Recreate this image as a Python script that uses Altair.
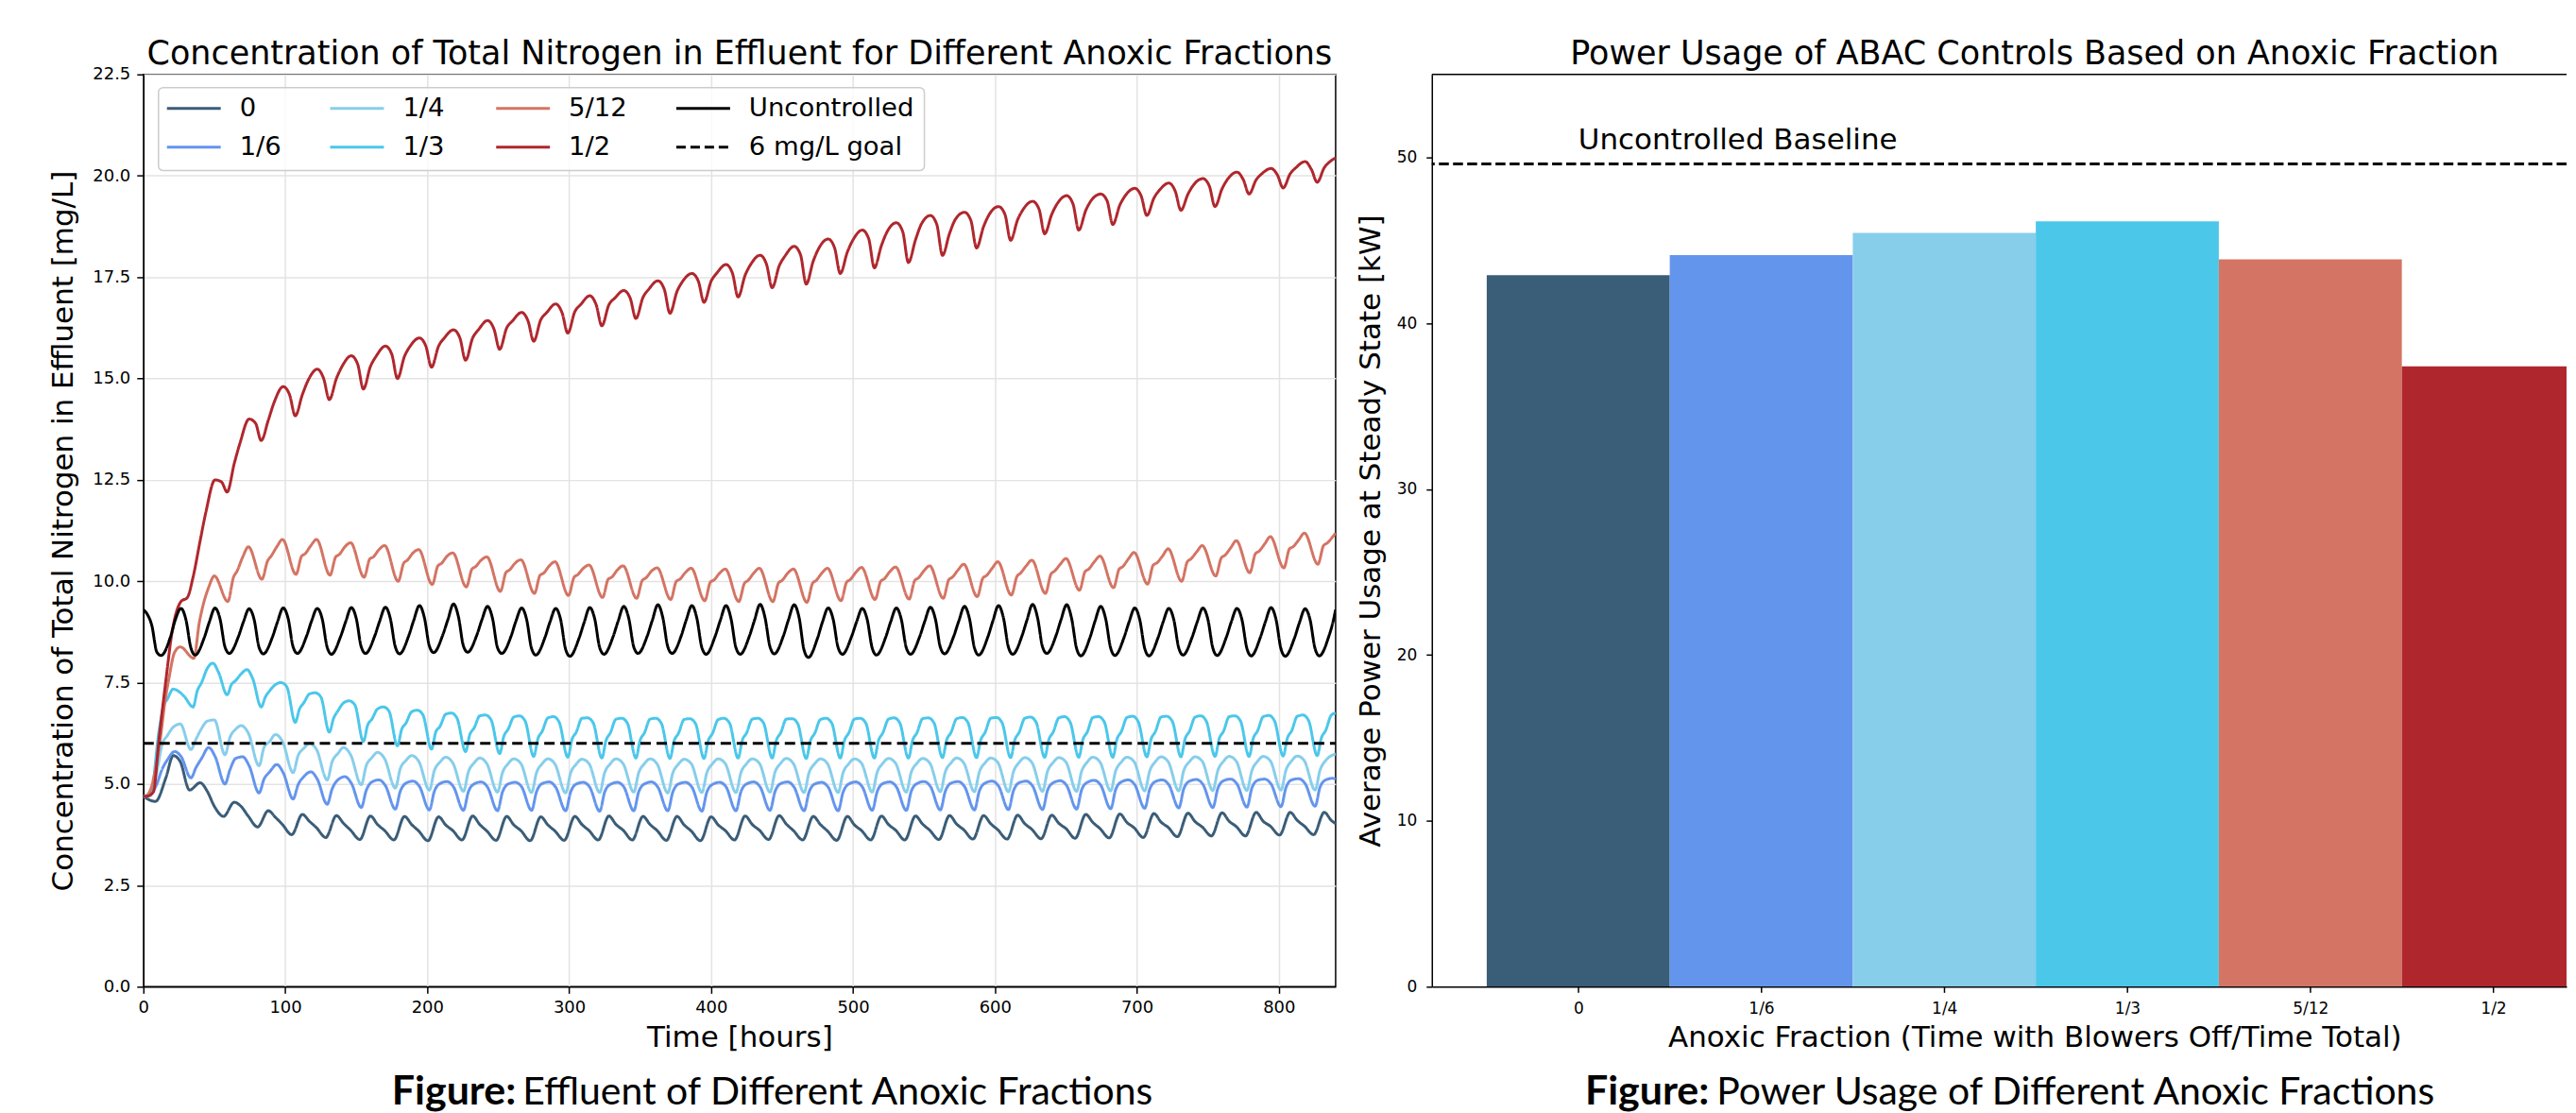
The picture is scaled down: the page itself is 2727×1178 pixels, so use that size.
import json
import altair as alt
import pandas as pd

FONT = "DejaVu Sans"
CAP_FONT = "Lato"

# ---------------- left chart: effluent total nitrogen ----------------
SERIES = ["0", "1/6", "1/4", "1/3", "5/12", "1/2", "Uncontrolled"]
SERIES_COLORS = ["#3a5d78", "#6495ed", "#87ceeb", "#4bc7ea", "#d47464", "#af272d", "#000000"]
GOAL_LABEL = "6 mg/L goal"
GOAL_VALUE = 6.0
T_MAX = 840
HOURS_PER_DAY = 24
START_VALUES = [4.70, 4.70, 4.70, 4.70, 4.70, 4.70, 9.30]
END_VALUES = [4.02, 5.12, 5.74, 6.75, 11.19, 20.44, 9.30]

# hour-of-day sample positions for each series (one row of values per day below)
OFF_0 = [2, 8.5, 16, 21]
OFF_16 = [2.5, 9.5, 13, 17, 22]
OFF_14 = [2, 9.5, 13, 17, 21]
OFF_13 = [1, 5, 11, 14, 17, 21]
OFF_512 = [2, 11.5, 15.5, 18, 22]
OFF_12 = [2.5, 7, 11, 16, 20]
OFF_UNC = [2.5, 6, 9.5, 12.5, 19, 22.5]

DAY_0 = [
    [4.65, 4.57, 5.17, 5.70], [5.55, 4.85, 5.03, 4.82], [4.45, 4.20, 4.55, 4.44],
    [4.20, 3.94, 4.34, 4.18], [4.00, 3.75, 4.25, 4.08], [3.92, 3.68, 4.22, 4.03],
    [3.86, 3.63, 4.21, 4.00], [3.85, 3.62, 4.20, 4.00], [3.84, 3.60, 4.19, 3.99],
    [3.85, 3.62, 4.21, 4.00], [3.84, 3.61, 4.20, 3.99], [3.85, 3.60, 4.19, 3.99],
    [3.84, 3.61, 4.20, 4.00], [3.85, 3.62, 4.21, 4.00], [3.86, 3.62, 4.20, 4.00],
    [3.85, 3.61, 4.20, 3.99], [3.84, 3.60, 4.19, 3.99], [3.85, 3.62, 4.21, 4.00],
    [3.86, 3.63, 4.22, 4.01], [3.85, 3.62, 4.20, 4.00], [3.84, 3.61, 4.20, 3.99],
    [3.85, 3.62, 4.21, 4.00], [3.86, 3.62, 4.21, 4.01], [3.86, 3.63, 4.22, 4.01],
    [3.87, 3.64, 4.22, 4.02], [3.87, 3.64, 4.23, 4.02], [3.88, 3.65, 4.23, 4.03],
    [3.90, 3.66, 4.25, 4.05], [3.90, 3.67, 4.26, 4.05], [3.92, 3.68, 4.27, 4.06],
    [3.93, 3.70, 4.28, 4.07], [3.94, 3.72, 4.29, 4.08], [3.95, 3.72, 4.30, 4.08],
    [3.96, 3.74, 4.30, 4.10], [3.96, 3.75, 4.30, 4.10],
]
DAY_16 = [
    [4.70, 5.00, 5.35, 5.60, 5.80], [5.68, 5.15, 5.40, 5.63, 5.90], [5.68, 5.00, 5.35, 5.63, 5.67],
    [5.45, 4.78, 5.12, 5.30, 5.48], [5.28, 4.63, 4.98, 5.18, 5.30], [5.12, 4.50, 4.88, 5.10, 5.18],
    [5.02, 4.42, 4.84, 5.05, 5.10], [4.96, 4.38, 4.82, 5.02, 5.07], [4.94, 4.36, 4.82, 5.01, 5.06],
    [4.93, 4.35, 4.81, 5.00, 5.05], [4.92, 4.34, 4.80, 5.00, 5.04], [4.93, 4.35, 4.81, 5.01, 5.05],
    [4.92, 4.34, 4.80, 5.00, 5.04], [4.92, 4.33, 4.80, 4.99, 5.04], [4.93, 4.34, 4.81, 5.00, 5.05],
    [4.92, 4.34, 4.80, 5.00, 5.04], [4.92, 4.33, 4.80, 4.99, 5.04], [4.93, 4.34, 4.81, 5.00, 5.05],
    [4.93, 4.35, 4.81, 5.01, 5.05], [4.92, 4.34, 4.80, 5.00, 5.04], [4.92, 4.34, 4.80, 5.00, 5.05],
    [4.93, 4.35, 4.81, 5.01, 5.05], [4.93, 4.35, 4.82, 5.01, 5.06], [4.94, 4.36, 4.82, 5.02, 5.06],
    [4.94, 4.36, 4.83, 5.02, 5.07], [4.95, 4.37, 4.83, 5.03, 5.07], [4.95, 4.37, 4.84, 5.03, 5.08],
    [4.96, 4.38, 4.85, 5.04, 5.09], [4.97, 4.39, 4.86, 5.05, 5.10], [4.98, 4.40, 4.87, 5.06, 5.10],
    [4.98, 4.41, 4.88, 5.07, 5.11], [4.99, 4.42, 4.89, 5.08, 5.12], [5.00, 4.43, 4.90, 5.09, 5.12],
    [5.00, 4.44, 4.91, 5.10, 5.13], [5.01, 4.45, 4.92, 5.10, 5.14],
]
DAY_14 = [
    [4.72, 5.30, 5.95, 6.20, 6.40], [6.48, 5.85, 6.10, 6.37, 6.55], [6.58, 5.72, 6.15, 6.35, 6.44],
    [6.25, 5.45, 5.90, 6.05, 6.22], [6.05, 5.28, 5.70, 5.88, 6.00], [5.85, 5.10, 5.55, 5.75, 5.90],
    [5.72, 4.98, 5.45, 5.65, 5.78], [5.62, 4.90, 5.38, 5.58, 5.70], [5.56, 4.85, 5.33, 5.54, 5.66],
    [5.52, 4.82, 5.30, 5.52, 5.64], [5.50, 4.80, 5.28, 5.50, 5.62], [5.50, 4.79, 5.28, 5.50, 5.62],
    [5.49, 4.78, 5.27, 5.49, 5.61], [5.50, 4.79, 5.28, 5.50, 5.62], [5.50, 4.80, 5.28, 5.50, 5.62],
    [5.49, 4.78, 5.27, 5.49, 5.61], [5.50, 4.79, 5.28, 5.50, 5.62], [5.50, 4.79, 5.28, 5.50, 5.62],
    [5.51, 4.80, 5.29, 5.51, 5.63], [5.50, 4.79, 5.28, 5.50, 5.62], [5.50, 4.79, 5.28, 5.50, 5.62],
    [5.51, 4.80, 5.29, 5.51, 5.63], [5.51, 4.80, 5.29, 5.51, 5.63], [5.52, 4.81, 5.30, 5.52, 5.64],
    [5.52, 4.81, 5.30, 5.52, 5.64], [5.53, 4.81, 5.30, 5.53, 5.65], [5.53, 4.82, 5.31, 5.53, 5.65],
    [5.54, 4.82, 5.31, 5.54, 5.66], [5.54, 4.83, 5.32, 5.54, 5.66], [5.55, 4.83, 5.32, 5.55, 5.67],
    [5.55, 4.83, 5.33, 5.55, 5.67], [5.56, 4.84, 5.33, 5.56, 5.68], [5.56, 4.84, 5.33, 5.56, 5.68],
    [5.57, 4.85, 5.34, 5.57, 5.69], [5.57, 4.85, 5.34, 5.58, 5.70],
]
DAY_13 = [
    [4.70, 4.72, 6.30, 6.90, 7.10, 7.34], [7.28, 7.15, 6.90, 7.30, 7.50, 7.85], [7.98, 7.75, 7.20, 7.45, 7.55, 7.72],
    [7.82, 7.60, 6.90, 7.15, 7.30, 7.45], [7.50, 7.40, 6.52, 6.85, 7.00, 7.22], [7.25, 7.15, 6.28, 6.62, 6.80, 7.00],
    [7.05, 6.95, 6.05, 6.45, 6.60, 6.85], [6.90, 6.80, 5.94, 6.35, 6.50, 6.78], [6.82, 6.70, 5.86, 6.28, 6.42, 6.72],
    [6.75, 6.62, 5.80, 6.22, 6.38, 6.68], [6.70, 6.58, 5.75, 6.18, 6.35, 6.65], [6.68, 6.55, 5.68, 6.12, 6.30, 6.63],
    [6.66, 6.52, 5.66, 6.10, 6.28, 6.62], [6.63, 6.50, 5.64, 6.08, 6.26, 6.60], [6.62, 6.50, 5.64, 6.08, 6.26, 6.60],
    [6.62, 6.49, 5.63, 6.07, 6.25, 6.59], [6.61, 6.49, 5.63, 6.07, 6.25, 6.59], [6.62, 6.50, 5.64, 6.08, 6.26, 6.60],
    [6.62, 6.50, 5.64, 6.08, 6.26, 6.60], [6.61, 6.49, 5.63, 6.07, 6.25, 6.59], [6.62, 6.50, 5.64, 6.08, 6.26, 6.60],
    [6.62, 6.50, 5.64, 6.08, 6.26, 6.60], [6.63, 6.50, 5.64, 6.08, 6.26, 6.61], [6.63, 6.51, 5.65, 6.09, 6.27, 6.61],
    [6.64, 6.51, 5.65, 6.09, 6.27, 6.62], [6.64, 6.51, 5.65, 6.09, 6.27, 6.62], [6.65, 6.52, 5.66, 6.10, 6.28, 6.63],
    [6.66, 6.52, 5.66, 6.10, 6.28, 6.64], [6.66, 6.53, 5.66, 6.11, 6.29, 6.64], [6.67, 6.53, 5.67, 6.11, 6.29, 6.65],
    [6.67, 6.54, 5.67, 6.12, 6.30, 6.65], [6.68, 6.54, 5.68, 6.12, 6.30, 6.66], [6.68, 6.55, 5.68, 6.13, 6.31, 6.66],
    [6.69, 6.55, 5.69, 6.13, 6.31, 6.67], [6.70, 6.56, 5.70, 6.14, 6.32, 6.70],
]
DAY_512 = [
    [4.70, 6.00, 7.10, 7.60, 8.25], [8.38, 8.10, 9.00, 9.40, 9.85], [10.13, 9.50, 10.10, 10.25, 10.60],
    [10.85, 10.05, 10.50, 10.62, 10.85], [11.03, 10.17, 10.62, 10.68, 10.88], [11.03, 10.15, 10.60, 10.66, 10.85],
    [10.95, 10.10, 10.55, 10.60, 10.78], [10.88, 10.00, 10.45, 10.52, 10.70], [10.78, 9.92, 10.38, 10.44, 10.62],
    [10.70, 9.86, 10.30, 10.36, 10.52], [10.60, 9.75, 10.22, 10.28, 10.45], [10.53, 9.70, 10.15, 10.20, 10.38],
    [10.48, 9.65, 10.10, 10.16, 10.32], [10.40, 9.60, 10.05, 10.10, 10.28], [10.38, 9.58, 10.02, 10.08, 10.25],
    [10.33, 9.55, 10.00, 10.05, 10.22], [10.32, 9.52, 9.98, 10.03, 10.20], [10.30, 9.50, 9.95, 10.02, 10.20],
    [10.32, 9.50, 9.96, 10.02, 10.20], [10.30, 9.48, 9.95, 10.02, 10.20], [10.32, 9.52, 9.98, 10.04, 10.22],
    [10.34, 9.55, 10.00, 10.06, 10.24], [10.35, 9.56, 10.02, 10.08, 10.26], [10.38, 9.58, 10.04, 10.10, 10.28],
    [10.42, 9.62, 10.08, 10.14, 10.32], [10.48, 9.66, 10.12, 10.20, 10.38], [10.52, 9.70, 10.18, 10.25, 10.42],
    [10.56, 9.78, 10.24, 10.30, 10.48], [10.62, 9.84, 10.30, 10.36, 10.55], [10.71, 9.93, 10.40, 10.45, 10.62],
    [10.80, 10.00, 10.48, 10.55, 10.72], [10.88, 10.13, 10.58, 10.64, 10.82], [11.00, 10.21, 10.68, 10.74, 10.92],
    [11.10, 10.33, 10.80, 10.85, 11.02], [11.19, 10.42, 10.88, 10.94, 11.10],
]
DAY_12 = [
    [4.70, 4.80, 6.10, 7.60, 8.70], [9.50, 9.60, 10.10, 11.00, 11.70], [12.50, 12.45, 12.20, 12.90, 13.40],
    [14.00, 13.90, 13.47, 13.97, 14.40], [14.80, 14.60, 14.08, 14.60, 14.95], [15.23, 15.00, 14.48, 15.00, 15.30],
    [15.56, 15.35, 14.74, 15.30, 15.55], [15.80, 15.60, 15.00, 15.55, 15.80], [16.00, 15.80, 15.28, 15.80, 16.00],
    [16.20, 16.00, 15.45, 16.00, 16.20], [16.43, 16.22, 15.72, 16.25, 16.42], [16.63, 16.42, 15.92, 16.45, 16.62],
    [16.84, 16.62, 16.12, 16.65, 16.82], [17.04, 16.82, 16.30, 16.82, 16.98], [17.17, 16.98, 16.48, 17.00, 17.20],
    [17.41, 17.20, 16.61, 17.15, 17.40], [17.59, 17.40, 16.88, 17.40, 17.60], [17.81, 17.60, 17.01, 17.55, 17.82],
    [18.04, 17.82, 17.24, 17.78, 18.02], [18.26, 18.05, 17.33, 17.90, 18.22], [18.44, 18.22, 17.59, 18.12, 18.42],
    [18.66, 18.45, 17.73, 18.28, 18.62], [18.84, 18.62, 17.86, 18.42, 18.80], [19.02, 18.80, 18.04, 18.58, 18.92],
    [19.10, 18.90, 18.22, 18.75, 19.05], [19.24, 19.05, 18.41, 18.92, 19.18], [19.37, 19.18, 18.57, 19.05, 19.32],
    [19.51, 19.30, 18.66, 19.15, 19.40], [19.55, 19.38, 18.80, 19.28, 19.52], [19.69, 19.50, 19.02, 19.45, 19.65],
    [19.82, 19.62, 19.15, 19.55, 19.78], [19.93, 19.75, 19.24, 19.68, 19.92], [20.09, 19.90, 19.55, 19.90, 20.05],
    [20.18, 20.02, 19.70, 20.05, 20.20], [20.35, 20.15, 19.84, 20.20, 20.35],
]
DAY_UNC = [
    [9.20, 8.90, 8.25, 8.17, 8.62, 9.05], [9.33, 9.05, 8.35, 8.18, 8.62, 9.00], [9.34, 9.07, 8.38, 8.22, 8.64, 9.00],
    [9.32, 9.06, 8.37, 8.21, 8.63, 9.00], [9.34, 9.08, 8.38, 8.22, 8.65, 9.02], [9.33, 9.07, 8.37, 8.20, 8.64, 9.00],
    [9.35, 9.08, 8.38, 8.22, 8.65, 9.02], [9.36, 9.08, 8.38, 8.21, 8.66, 9.04], [9.40, 9.10, 8.40, 8.24, 8.68, 9.05],
    [9.44, 9.12, 8.40, 8.25, 8.68, 9.05], [9.38, 9.08, 8.36, 8.22, 8.64, 9.02], [9.34, 9.06, 8.34, 8.18, 8.62, 9.00],
    [9.33, 9.05, 8.32, 8.15, 8.60, 8.98], [9.35, 9.07, 8.36, 8.20, 8.64, 9.02], [9.38, 9.08, 8.38, 8.22, 8.65, 9.03],
    [9.42, 9.10, 8.38, 8.22, 8.66, 9.05], [9.40, 9.08, 8.36, 8.20, 8.66, 9.04], [9.40, 9.08, 8.36, 8.20, 8.65, 9.03],
    [9.43, 9.10, 8.38, 8.21, 8.66, 9.05], [9.42, 9.10, 8.30, 8.12, 8.60, 9.00], [9.34, 9.06, 8.36, 8.20, 8.64, 9.00],
    [9.33, 9.05, 8.35, 8.18, 8.62, 9.00], [9.34, 9.06, 8.36, 8.20, 8.64, 9.01], [9.36, 9.07, 8.37, 8.21, 8.65, 9.02],
    [9.38, 9.08, 8.36, 8.18, 8.63, 9.02], [9.40, 9.09, 8.37, 8.20, 8.65, 9.04], [9.43, 9.10, 8.38, 8.22, 8.66, 9.05],
    [9.42, 9.08, 8.34, 8.16, 8.62, 9.02], [9.38, 9.07, 8.35, 8.17, 8.62, 9.00], [9.34, 9.05, 8.34, 8.16, 8.62, 9.00],
    [9.33, 9.05, 8.35, 8.18, 8.63, 9.00], [9.34, 9.06, 8.35, 8.17, 8.62, 9.00], [9.33, 9.05, 8.34, 8.16, 8.62, 9.00],
    [9.35, 9.06, 8.33, 8.15, 8.60, 8.98], [9.32, 9.05, 8.34, 8.16, 8.62, 9.05],
]
OFFSETS = [OFF_0, OFF_16, OFF_14, OFF_13, OFF_512, OFF_12, OFF_UNC]
DAYS = [DAY_0, DAY_16, DAY_14, DAY_13, DAY_512, DAY_12, DAY_UNC]

Y_TICKS = [0, 2.5, 5, 7.5, 10, 12.5, 15, 17.5, 20, 22.5]
X_TICKS = [0, 100, 200, 300, 400, 500, 600, 700, 800]

TITLE_LEFT = "Concentration of Total Nitrogen in Effluent for Different Anoxic Fractions"
TITLE_RIGHT = "Power Usage of ABAC Controls Based on Anoxic Fraction"

# legend layout (pixels inside the left plot): 4 columns x 2 rows, filled column by column
LEG_BOX = [16, 14, 828, 102]
LEG_COL_X = [25, 198, 374, 565]
LEG_ROW_Y = [36, 77]
LEG_SYMBOL_LEN = 57
LEG_LABEL_GAP = 20

# ---------------- right chart: power usage ----------------
FRACTIONS = ["0", "1/6", "1/4", "1/3", "5/12", "1/2"]
POWER_KW = [42.9, 44.1, 45.45, 46.15, 43.85, 37.4]
BAR_COLORS = ["#3a5d78", "#6495ed", "#87ceeb", "#4bc7ea", "#d47464", "#af272d"]
BASELINE_KW = 49.6
BASELINE_LABEL = "Uncontrolled Baseline"
P_TICKS = [0, 10, 20, 30, 40, 50]

CAPTION_LEFT = ["Figure:", "Effluent of Different Anoxic Fractions"]
CAPTION_RIGHT = ["Figure:", "Power Usage of Different Anoxic Fractions"]

LW, LH = 1264, 967
RW, RH = 1203, 967

# ---------------- build left ----------------
rows = []
for name, start, offs, days, end in zip(SERIES, START_VALUES, OFFSETS, DAYS, END_VALUES):
    rows.append({"series": name, "t": 0.0, "v": start})
    for k, vals in enumerate(days):
        for off, val in zip(offs, vals):
            rows.append({"series": name, "t": HOURS_PER_DAY * k + off, "v": val})
    rows.append({"series": name, "t": float(T_MAX), "v": end})
rows.append({"series": GOAL_LABEL, "t": 0.0, "v": GOAL_VALUE})
rows.append({"series": GOAL_LABEL, "t": float(T_MAX), "v": GOAL_VALUE})
df = pd.DataFrame(rows)

ALL_LABELS = SERIES + [GOAL_LABEL]
color_of = dict(zip(SERIES, SERIES_COLORS))
color_of[GOAL_LABEL] = "#000000"
dash_of = {s: [1, 0] for s in SERIES}
dash_of[GOAL_LABEL] = [11, 6]

lines = alt.Chart(df).mark_line(strokeWidth=3, clip=True, interpolate="monotone").encode(
    x=alt.X("t:Q", scale=alt.Scale(domain=[0, T_MAX], nice=False, zero=False),
            axis=alt.Axis(values=X_TICKS, title="Time [hours]", titleFontSize=31, titlePadding=8,
                          labelFontSize=18, labelPadding=6, tickSize=7, grid=True,
                          gridColor="#e3e3e3", gridWidth=1.5, labelFlush=False, labelOverlap=False)),
    y=alt.Y("v:Q", scale=alt.Scale(domain=[0, 22.5], nice=False),
            axis=alt.Axis(values=Y_TICKS, format=".1f",
                          title="Concentration of Total Nitrogen in Effluent [mg/L]",
                          titleFontSize=31, titlePadding=14, labelFontSize=18, labelPadding=7,
                          tickSize=7, grid=True, gridColor="#e3e3e3", gridWidth=1.5,
                          labelFlush=False, labelOverlap=False)),
    color=alt.Color("series:N", scale=alt.Scale(domain=ALL_LABELS,
                                                 range=[color_of[s] for s in ALL_LABELS]),
                    legend=None),
    strokeDash=alt.StrokeDash("series:N", scale=alt.Scale(domain=ALL_LABELS,
                                                           range=[dash_of[s] for s in ALL_LABELS]),
                              legend=None),
)

one = pd.DataFrame({"k": [0]})
legend_layers = [
    alt.Chart(one).mark_rect(fill="white", fillOpacity=0.8, stroke="#cccccc", strokeWidth=1.5,
                             cornerRadius=5).encode(
        x=alt.value(LEG_BOX[0]), y=alt.value(LEG_BOX[1]),
        x2=alt.value(LEG_BOX[2]), y2=alt.value(LEG_BOX[3]))
]
for i, lab in enumerate(ALL_LABELS):
    cx = LEG_COL_X[i // 2]
    cy = LEG_ROW_Y[i % 2]
    rule_kw = {"color": color_of[lab], "strokeWidth": 3}
    if lab == GOAL_LABEL:
        rule_kw["strokeDash"] = [10, 5]
    legend_layers.append(
        alt.Chart(one).mark_rule(**rule_kw).encode(
            x=alt.value(cx), x2=alt.value(cx + LEG_SYMBOL_LEN), y=alt.value(cy))
    )
    legend_layers.append(
        alt.Chart(one).mark_text(text=lab, font=FONT, fontSize=27.5, align="left",
                                 baseline="middle", color="black").encode(
            x=alt.value(cx + LEG_SYMBOL_LEN + LEG_LABEL_GAP), y=alt.value(cy))
    )

txtL = pd.DataFrame({"title": [TITLE_LEFT], "bold": [CAPTION_LEFT[0]], "rest": [CAPTION_LEFT[1]]})
titleL = alt.Chart(txtL).mark_text(font=FONT, fontSize=35, align="center", baseline="alphabetic",
                                    color="black").encode(
    x=alt.value(LW / 2), y=alt.value(-10.5), text="title:N")
capL_bold = alt.Chart(txtL).mark_text(font=CAP_FONT, fontWeight="bold", fontSize=43, align="right",
                                       baseline="alphabetic", color="black").encode(
    x=alt.value(395), y=alt.value(1092), text="bold:N")
capL_rest = alt.Chart(txtL).mark_text(font=CAP_FONT, fontSize=41, align="left",
                                       baseline="alphabetic", color="black").encode(
    x=alt.value(402), y=alt.value(1092), text="rest:N")

left = alt.layer(lines, *legend_layers, titleL, capL_bold, capL_rest).properties(width=LW, height=LH)

# ---------------- build right ----------------
bars_df = pd.DataFrame({"idx": list(range(len(FRACTIONS))), "frac": FRACTIONS, "kw": POWER_KW})
XS = alt.Scale(domain=[-0.8, 5.4], nice=False, zero=False)
YS = alt.Scale(domain=[0, 55], nice=False)
label_expr = json.dumps(FRACTIONS) + "[datum.value]"

bars = alt.Chart(bars_df).transform_calculate(
    x0="datum.idx - 0.5", x1="datum.idx + 0.5", kw0="0"
).mark_bar(clip=True).encode(
    x=alt.X("x0:Q", scale=XS,
            axis=alt.Axis(values=list(range(len(FRACTIONS))), labelExpr=label_expr,
                          title="Anoxic Fraction (Time with Blowers Off/Time Total)",
                          titleFontSize=31, titlePadding=8, titleX=639, labelFontSize=17,
                          labelPadding=9, tickSize=6, grid=False, labelFlush=False)),
    x2="x1:Q",
    y=alt.Y("kw:Q", scale=YS,
            axis=alt.Axis(values=P_TICKS, title="Average Power Usage at Steady State [kW]",
                          titleFontSize=31, titlePadding=11, labelFontSize=17, labelPadding=10,
                          tickSize=6, grid=False)),
    y2="kw0:Q",
    color=alt.Color("frac:N", scale=alt.Scale(domain=FRACTIONS, range=BAR_COLORS), legend=None),
)

base_df = pd.DataFrame({"x0": [0.0], "kw": [BASELINE_KW], "label": [BASELINE_LABEL]})
base_rule = alt.Chart(base_df).mark_rule(color="black", strokeWidth=3, strokeDash=[10.5, 4.5]).encode(
    y=alt.Y("kw:Q", scale=YS))
base_text = alt.Chart(base_df).mark_text(font=FONT, fontSize=31, align="left", baseline="alphabetic",
                                         dy=-16, color="black").encode(
    x=alt.X("x0:Q", scale=XS), y=alt.Y("kw:Q", scale=YS), text="label:N")
top_rule = alt.Chart(base_df).mark_rule(color="black", strokeWidth=1.5).encode(
    x=alt.value(0), x2=alt.value(RW), y=alt.value(0))

txtR = pd.DataFrame({"title": [TITLE_RIGHT], "bold": [CAPTION_RIGHT[0]], "rest": [CAPTION_RIGHT[1]]})
titleR = alt.Chart(txtR).mark_text(font=FONT, fontSize=35, align="center", baseline="alphabetic",
                                    color="black").encode(
    x=alt.value(639), y=alt.value(-10.5), text="title:N")
capR_bold = alt.Chart(txtR).mark_text(font=CAP_FONT, fontWeight="bold", fontSize=43, align="right",
                                       baseline="alphabetic", color="black").encode(
    x=alt.value(294), y=alt.value(1092), text="bold:N")
capR_rest = alt.Chart(txtR).mark_text(font=CAP_FONT, fontSize=41, align="left",
                                       baseline="alphabetic", color="black").encode(
    x=alt.value(302), y=alt.value(1092), text="rest:N")

right = alt.layer(bars, base_rule, base_text, top_rule, titleR, capR_bold, capR_rest).properties(
    width=RW, height=RH, view=alt.ViewBackground(strokeOpacity=0),
)

chart = alt.hconcat(left, right, spacing=20).resolve_scale(
    color="independent", strokeDash="independent"
).properties(
    padding={"left": 43, "top": 30, "right": 0, "bottom": 0}, background="white"
).configure_view(
    stroke="black", strokeWidth=1.5
).configure_axis(
    labelFont=FONT, titleFont=FONT, labelColor="black", titleColor="black",
    titleFontWeight="normal", tickColor="black", tickWidth=1.5, domainColor="black",
    domainWidth=1.5,
)

chart.save("out.html", embed_options={"renderer": "svg", "actions": False})
